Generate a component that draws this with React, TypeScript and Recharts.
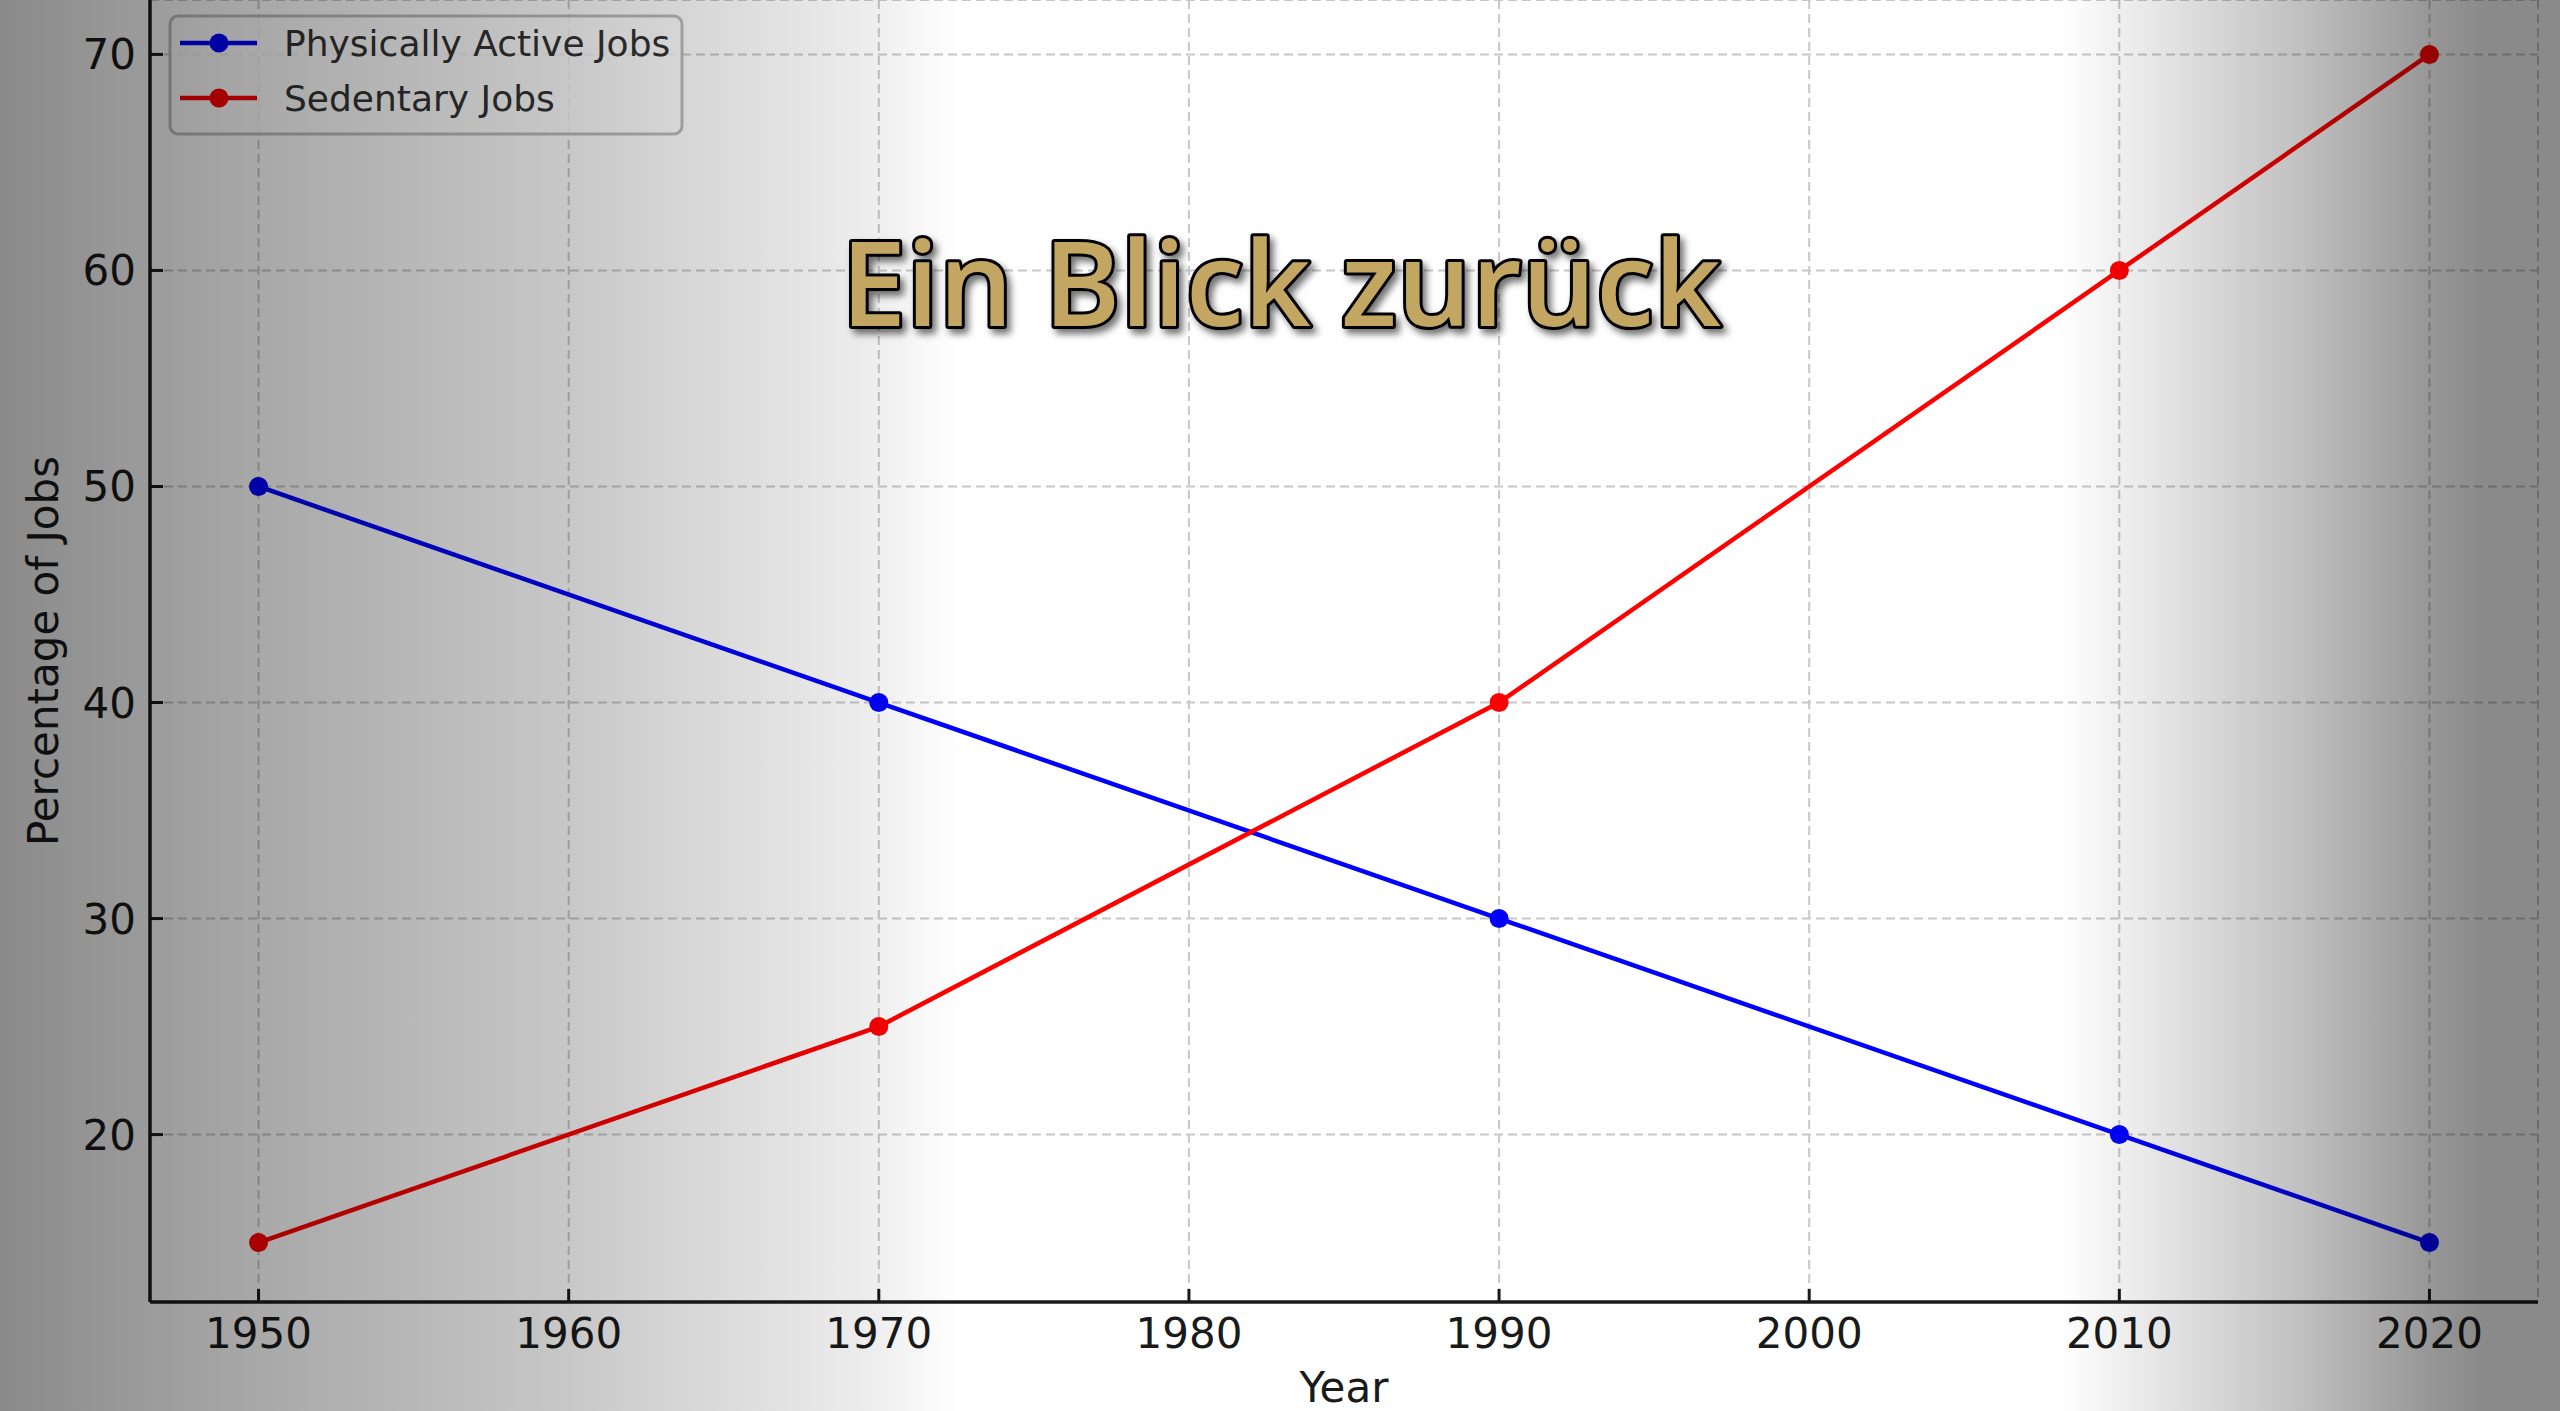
import React from 'react';
import { LineChart, Line, XAxis, YAxis, CartesianGrid, Legend } from 'recharts';

const years = [1950, 1970, 1990, 2010, 2020];
const activeJobs = [50, 40, 30, 20, 15];
const sedentaryJobs = [15, 25, 40, 60, 70];
const xTicks = [1950, 1960, 1970, 1980, 1990, 2000, 2010, 2020];
const yTicks = [20, 30, 40, 50, 60, 70];
const seriesNames = ['Physically Active Jobs', 'Sedentary Jobs'];
const seriesColors = ['#0000ff', '#ff0000'];
const titleText = 'Ein Blick zurück';

const data = years.map((y, i) => ({ year: y, active: activeJobs[i], sedentary: sedentaryJobs[i] }));

const FONT = 'DejaVu Sans, sans-serif';
const W = 2560;
const H = 1411;

const XTick = (props: any) => {
  const { x, y, payload } = props;
  return (
    <g>
      <line x1={x} x2={x} y1={y} y2={y - 13} stroke="#1a1a1a" strokeWidth={3} />
      <text x={x} y={y + 46} textAnchor="middle" fontFamily={FONT} fontSize={42} fill="#1a1a1a">
        {payload.value}
      </text>
    </g>
  );
};

const YTick = (props: any) => {
  const { x, y, payload } = props;
  return (
    <g>
      <line x1={x} x2={x + 13} y1={y} y2={y} stroke="#1a1a1a" strokeWidth={3} />
      <text x={x - 14} y={y + 15} textAnchor="end" fontFamily={FONT} fontSize={42} fill="#1a1a1a">
        {payload.value}
      </text>
    </g>
  );
};

const LegendBox = () => (
  <svg width={516} height={122} style={{ display: 'block' }}>
    <rect x={2} y={2} width={512} height={118} rx={8} ry={8} fill="#ffffff" fillOpacity={0.8} stroke="#bdbdbd" strokeWidth={3} />
    {seriesNames.map((n, i) => {
      const cy = 29 + i * 55;
      return (
        <g key={n}>
          <line x1={12} x2={89} y1={cy} y2={cy} stroke={seriesColors[i]} strokeWidth={4.5} />
          <circle cx={51} cy={cy} r={9.5} fill={seriesColors[i]} />
          <text x={116} y={cy + 13} fontFamily={FONT} fontSize={36} fill="#333333">
            {n}
          </text>
        </g>
      );
    })}
  </svg>
);

export default function App() {
  return (
    <div style={{ position: 'absolute', left: 0, top: 0, width: W, height: H, background: '#ffffff', overflow: 'hidden' }}>
      <LineChart width={W} height={H} data={data} margin={{ top: 0, right: 22, bottom: 79, left: 90 }}>
        <CartesianGrid stroke="#c8c8c8" strokeWidth={2} strokeDasharray="9 5" />
        <XAxis
          dataKey="year"
          type="number"
          domain={[1946.5, 2023.5]}
          ticks={xTicks}
          allowDataOverflow
          tickSize={0}
          tickMargin={0}
          tickLine={false}
          axisLine={{ stroke: '#1a1a1a', strokeWidth: 3.5 }}
          tick={<XTick />}
          interval={0}
          height={30}
          label={{ value: 'Year', position: 'bottom', content: (p: any) => (
            <text x={1344} y={1402} textAnchor="middle" fontFamily={FONT} fontSize={42} fill="#1a1a1a">Year</text>
          ) }}
        />
        <YAxis
          type="number"
          domain={[12.25, 72.52]}
          ticks={yTicks}
          allowDataOverflow
          tickSize={0}
          tickMargin={0}
          tickLine={false}
          axisLine={{ stroke: '#1a1a1a', strokeWidth: 3.5 }}
          tick={<YTick />}
          interval={0}
          width={60}
          label={{ value: 'Percentage of Jobs', content: (p: any) => (
            <text x={58} y={651} transform="rotate(-90 58 651)" textAnchor="middle" fontFamily={FONT} fontSize={42} fill="#1a1a1a">Percentage of Jobs</text>
          ) }}
        />
        <Legend
          layout="vertical"
          align="center"
          verticalAlign="middle"
          content={() => <LegendBox />}
          wrapperStyle={{ position: 'absolute', left: 168, top: 14, width: 516, height: 122 }}
        />
        <Line
          type="linear"
          dataKey="active"
          name={seriesNames[0]}
          stroke={seriesColors[0]}
          strokeWidth={4.5}
          dot={{ r: 9.5, fill: seriesColors[0], stroke: 'none' }}
          activeDot={false}
          isAnimationActive={false}
        />
        <Line
          type="linear"
          dataKey="sedentary"
          name={seriesNames[1]}
          stroke={seriesColors[1]}
          strokeWidth={4.5}
          dot={{ r: 9.5, fill: seriesColors[1], stroke: 'none' }}
          activeDot={false}
          isAnimationActive={false}
        />
      </LineChart>
      <div
        style={{
          position: 'absolute',
          left: 0,
          top: 0,
          width: W,
          height: H,
          pointerEvents: 'none',
          background:
            'linear-gradient(to right, rgba(0,0,0,0.46) 0%, rgba(0,0,0,0.34) 10%, rgba(0,0,0,0.22) 22%, rgba(0,0,0,0.07) 34%, rgba(0,0,0,0) 37.5%, rgba(0,0,0,0) 80.5%, rgba(0,0,0,0.06) 82.7%, rgba(0,0,0,0.25) 90%, rgba(0,0,0,0.41) 95%, rgba(0,0,0,0.46) 97%, rgba(0,0,0,0.46) 100%)',
        }}
      />
      <svg width={W} height={H} style={{ position: 'absolute', left: 0, top: 0, pointerEvents: 'none' }}>
        <defs>
          <filter id="tshadow" x="-10%" y="-30%" width="120%" height="160%">
            <feDropShadow dx={4} dy={5} stdDeviation={3.5} floodColor="#000000" floodOpacity={0.55} />
          </filter>
        </defs>
        <text
          x={1281}
          y={326}
          textAnchor="middle"
          fontFamily="'Open Sans', Lato, sans-serif"
          fontWeight={600}
          fontSize={118}
          fill="#c4a664"
          stroke="#000000"
          strokeWidth={6}
          strokeLinejoin="round"
          paintOrder="stroke"
          textLength={880}
          lengthAdjust="spacingAndGlyphs"
          filter="url(#tshadow)"
        >
          {titleText}
        </text>
      </svg>
    </div>
  );
}
